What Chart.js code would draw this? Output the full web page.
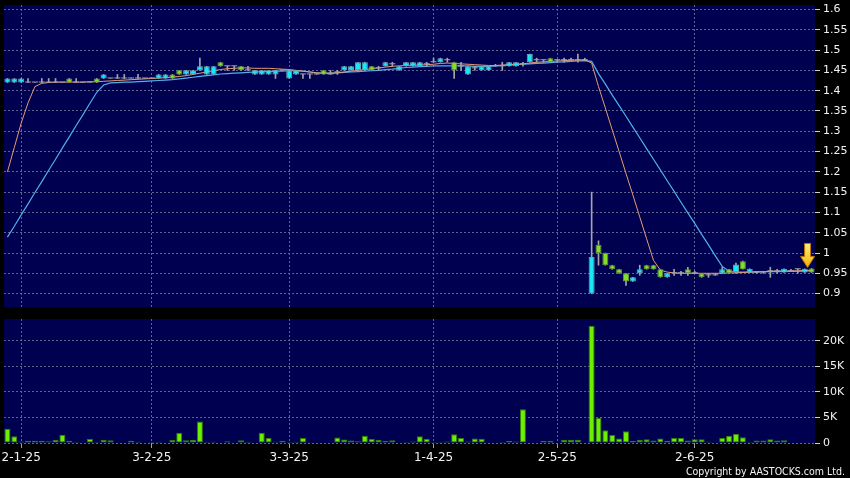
<!DOCTYPE html>
<html>
<head>
<meta charset="utf-8">
<script src="https://cdn.jsdelivr.net/npm/chart.js@4.4.1/dist/chart.umd.min.js"></script>
<style>
  html, body { margin: 0; padding: 0; background: #000; }
  #wrap { position: relative; width: 850px; height: 478px; background: #000; overflow: hidden; }
  #priceChart { position: absolute; left: 0; top: 0; }
  #volChart { position: absolute; left: 0; top: 310px; }
  #copy { position: absolute; right: 5px; top: 465px; color: #f4f4f4; font: 10.5px "DejaVu Sans Condensed", "DejaVu Sans", sans-serif; white-space: nowrap; }
</style>
</head>
<body>
<div id="wrap">
  <canvas id="priceChart" width="850" height="310"></canvas>
  <canvas id="volChart" width="850" height="168"></canvas>
  <div id="copy">Copyright by AASTOCKS.com Ltd.</div>
</div>
<script>
// 交易日 (D-M-YY)
const dates = [
  '30-12-24', '31-12-24',
  '2-1-25', '3-1-25', '6-1-25', '7-1-25', '8-1-25', '9-1-25', '10-1-25', '13-1-25', '14-1-25', '15-1-25',
  '16-1-25', '17-1-25', '20-1-25', '21-1-25', '22-1-25', '23-1-25', '24-1-25', '27-1-25', '28-1-25',
  '3-2-25', '4-2-25', '5-2-25', '6-2-25', '7-2-25', '10-2-25', '11-2-25', '12-2-25', '13-2-25', '14-2-25',
  '17-2-25', '18-2-25', '19-2-25', '20-2-25', '21-2-25', '24-2-25', '25-2-25', '26-2-25', '27-2-25', '28-2-25',
  '3-3-25', '4-3-25', '5-3-25', '6-3-25', '7-3-25', '10-3-25', '11-3-25', '12-3-25', '13-3-25', '14-3-25',
  '17-3-25', '18-3-25', '19-3-25', '20-3-25', '21-3-25', '24-3-25', '25-3-25', '26-3-25', '27-3-25', '28-3-25', '31-3-25',
  '1-4-25', '2-4-25', '3-4-25', '7-4-25', '8-4-25', '10-4-25', '11-4-25', '14-4-25', '15-4-25',
  '16-4-25', '17-4-25', '22-4-25', '23-4-25', '24-4-25', '25-4-25', '28-4-25', '29-4-25', '30-4-25',
  '2-5-25', '6-5-25', '7-5-25', '8-5-25', '9-5-25', '12-5-25', '13-5-25', '14-5-25', '15-5-25', '16-5-25',
  '19-5-25', '20-5-25', '21-5-25', '22-5-25', '23-5-25', '26-5-25', '27-5-25', '28-5-25', '29-5-25', '30-5-25',
  '2-6-25', '3-6-25', '4-6-25', '5-6-25', '6-6-25', '9-6-25', '10-6-25', '11-6-25', '12-6-25', '13-6-25',
  '16-6-25', '17-6-25', '18-6-25', '19-6-25', '20-6-25', '23-6-25', '24-6-25', '25-6-25'
];

// 显示刻度的日期
const monthTicks = ['2-1-25', '3-2-25', '3-3-25', '1-4-25', '2-5-25', '2-6-25'];

// 开盘价
const opens = [
  1.42, 1.42, 1.42, 1.42, 1.42, 1.42, 1.42, 1.42, 1.42, 1.43,
  1.42, 1.42, 1.42, 1.43, 1.43, 1.43, 1.43, 1.43, 1.43, 1.43,
  1.43, 1.43, 1.43, 1.43, 1.44, 1.45, 1.44, 1.44, 1.45, 1.44,
  1.44, 1.47, 1.46, 1.46, 1.46, 1.45, 1.44, 1.44, 1.44, 1.44,
  1.45, 1.43, 1.44, 1.44, 1.44, 1.44, 1.45, 1.44, 1.445, 1.45,
  1.45, 1.45, 1.45, 1.46, 1.455, 1.46, 1.465, 1.45, 1.46, 1.46,
  1.46, 1.465, 1.47, 1.47, 1.475, 1.47, 1.46, 1.44, 1.455, 1.45,
  1.45, 1.46, 1.46, 1.46, 1.46, 1.465, 1.47, 1.475, 1.475, 1.48,
  1.475, 1.475, 1.475, 1.475, 1.475, 0.90, 1.02, 1.00, 0.97, 0.96,
  0.95, 0.93, 0.95, 0.97, 0.97, 0.96, 0.94, 0.95, 0.95, 0.96,
  0.95, 0.95, 0.945, 0.945, 0.95, 0.96, 0.953, 0.98, 0.952, 0.952,
  0.952, 0.955, 0.955, 0.952, 0.955, 0.96, 0.952, 0.962
];

// 最高价
const highs = [
  1.43, 1.43, 1.43, 1.43, 1.42, 1.43, 1.43, 1.43, 1.42, 1.43,
  1.43, 1.42, 1.42, 1.43, 1.44, 1.43, 1.44, 1.44, 1.43, 1.44,
  1.43, 1.43, 1.44, 1.44, 1.44, 1.45, 1.45, 1.45, 1.48, 1.46,
  1.46, 1.47, 1.46, 1.46, 1.46, 1.46, 1.45, 1.45, 1.45, 1.45,
  1.45, 1.45, 1.45, 1.44, 1.44, 1.44, 1.45, 1.45, 1.45, 1.46,
  1.46, 1.47, 1.47, 1.46, 1.46, 1.47, 1.47, 1.46, 1.47, 1.47,
  1.47, 1.47, 1.48, 1.48, 1.48, 1.47, 1.47, 1.46, 1.46, 1.46,
  1.46, 1.465, 1.47, 1.47, 1.47, 1.47, 1.49, 1.48, 1.475, 1.48,
  1.475, 1.48, 1.48, 1.49, 1.48, 1.15, 1.03, 1.00, 0.97, 0.96,
  0.95, 0.94, 0.97, 0.97, 0.97, 0.96, 0.95, 0.96, 0.955, 0.965,
  0.955, 0.95, 0.95, 0.95, 0.965, 0.96, 0.975, 0.98, 0.961, 0.955,
  0.955, 0.965, 0.96, 0.961, 0.96, 0.96, 0.961, 0.962
];

// 最低价
const lows = [
  1.42, 1.42, 1.42, 1.42, 1.42, 1.42, 1.42, 1.42, 1.42, 1.42,
  1.42, 1.42, 1.42, 1.42, 1.43, 1.43, 1.43, 1.43, 1.43, 1.43,
  1.43, 1.43, 1.43, 1.43, 1.43, 1.44, 1.44, 1.44, 1.45, 1.44,
  1.44, 1.46, 1.45, 1.45, 1.45, 1.45, 1.44, 1.44, 1.44, 1.43,
  1.45, 1.43, 1.44, 1.43, 1.43, 1.44, 1.44, 1.44, 1.44, 1.45,
  1.45, 1.45, 1.45, 1.45, 1.45, 1.46, 1.46, 1.45, 1.46, 1.46,
  1.46, 1.46, 1.47, 1.47, 1.47, 1.43, 1.45, 1.44, 1.45, 1.45,
  1.45, 1.46, 1.45, 1.46, 1.46, 1.46, 1.47, 1.47, 1.47, 1.47,
  1.47, 1.47, 1.475, 1.47, 1.475, 0.90, 0.97, 0.97, 0.96, 0.95,
  0.92, 0.93, 0.945, 0.96, 0.96, 0.94, 0.94, 0.945, 0.945, 0.945,
  0.95, 0.94, 0.94, 0.945, 0.95, 0.95, 0.95, 0.96, 0.952, 0.95,
  0.95, 0.94, 0.95, 0.952, 0.955, 0.95, 0.952, 0.952
];

// 收盘价
const closes = [
  1.43, 1.43, 1.43, 1.42, 1.42, 1.42, 1.42, 1.42, 1.42, 1.42,
  1.42, 1.42, 1.42, 1.42, 1.44, 1.43, 1.43, 1.43, 1.43, 1.43,
  1.43, 1.43, 1.44, 1.44, 1.43, 1.44, 1.45, 1.45, 1.46, 1.46,
  1.46, 1.46, 1.46, 1.46, 1.45, 1.45, 1.45, 1.45, 1.45, 1.45,
  1.45, 1.45, 1.45, 1.44, 1.44, 1.44, 1.44, 1.44, 1.445, 1.46,
  1.46, 1.47, 1.47, 1.45, 1.455, 1.47, 1.465, 1.46, 1.47, 1.47,
  1.47, 1.465, 1.47, 1.48, 1.475, 1.45, 1.46, 1.46, 1.455, 1.46,
  1.46, 1.46, 1.46, 1.47, 1.47, 1.465, 1.49, 1.475, 1.475, 1.47,
  1.475, 1.475, 1.475, 1.475, 1.475, 0.99, 1.00, 0.97, 0.96, 0.95,
  0.93, 0.94, 0.96, 0.96, 0.96, 0.94, 0.95, 0.95, 0.95, 0.95,
  0.95, 0.94, 0.945, 0.945, 0.96, 0.95, 0.972, 0.96, 0.961, 0.952,
  0.952, 0.955, 0.955, 0.961, 0.955, 0.96, 0.961, 0.952
];

// 成交量(千股)
const volumes = [
  2.8, 1.3, 0.3, 0.45, 0.45, 0.45, 0.35, 0.65, 1.6, 0.45,
  0.2, 0.1, 0.8, 0.2, 0.65, 0.55, 0, 0, 0.45, 0.25,
  0, 0.25, 0.25, 0, 0.6, 2.0, 0.55, 0.65, 4.2, 0.25,
  0.25, 0, 0.35, 0, 0.55, 0.25, 0, 2.0, 1.0, 0.25,
  0.45, 0.25, 0.25, 1.0, 0.15, 0, 0, 0, 1.1, 0.7,
  0.5, 0.35, 1.4, 0.8, 0.65, 0.4, 0.55, 0.1, 0.2, 0.3,
  1.3, 0.8, 0.2, 0.2, 0.3, 1.7, 1.0, 0.3, 0.9, 0.85,
  0.05, 0.1, 0.2, 0.4, 0.3, 6.6, 0.1, 0, 0.45, 0.45,
  0, 0.65, 0.65, 0.65, 0.1, 23.0, 4.9, 2.5, 1.55, 0.9,
  2.3, 0.45, 0.65, 0.75, 0.5, 0.9, 0.45, 1.0, 1.0, 0.5,
  0.75, 0.75, 0.25, 0.1, 1.0, 1.4, 1.8, 1.15, 0.2, 0.5,
  0.5, 0.75, 0.5, 0.55, 0, 0.1, 0.03, 0.03
];

// 10日均线
const ma10 = [
  1.20, 1.26, 1.32, 1.37, 1.41, 1.418, 1.42, 1.421, 1.421, 1.421,
  1.421, 1.421, 1.422, 1.422, 1.423, 1.424, 1.425, 1.426, 1.427, 1.428,
  1.429, 1.430, 1.431, 1.432, 1.433, 1.435, 1.437, 1.440, 1.443, 1.446,
  1.449, 1.452, 1.454, 1.455, 1.456, 1.456, 1.455, 1.455, 1.455, 1.454,
  1.453, 1.452, 1.450, 1.448, 1.446, 1.444, 1.443, 1.443, 1.444, 1.446,
  1.448, 1.450, 1.452, 1.454, 1.456, 1.458, 1.460, 1.461, 1.462, 1.463,
  1.463, 1.464, 1.465, 1.467, 1.468, 1.467, 1.466, 1.465, 1.464, 1.463,
  1.462, 1.462, 1.463, 1.464, 1.465, 1.466, 1.468, 1.470, 1.471, 1.472,
  1.473, 1.474, 1.475, 1.475, 1.476, 1.468, 1.410, 1.357, 1.303, 1.250,
  1.196, 1.143, 1.089, 1.035, 0.982, 0.958, 0.953, 0.951, 0.950, 0.950,
  0.950, 0.950, 0.950, 0.950, 0.950, 0.951, 0.951, 0.952, 0.953, 0.954,
  0.954, 0.955, 0.955, 0.955, 0.956, 0.956, 0.957, 0.957
];

// 20日均线
const ma20 = [
  1.039, 1.066, 1.094, 1.121, 1.149, 1.176, 1.204, 1.231, 1.259, 1.286,
  1.314, 1.341, 1.369, 1.396, 1.414, 1.419, 1.420, 1.421, 1.421, 1.422,
  1.423, 1.424, 1.425, 1.426, 1.427, 1.429, 1.431, 1.433, 1.435, 1.437,
  1.439, 1.441, 1.442, 1.443, 1.444, 1.445, 1.446, 1.447, 1.447, 1.448,
  1.448, 1.449, 1.449, 1.448, 1.446, 1.444, 1.443, 1.443, 1.444, 1.445,
  1.446, 1.447, 1.448, 1.449, 1.450, 1.452, 1.453, 1.455, 1.457, 1.458,
  1.459, 1.460, 1.461, 1.461, 1.461, 1.461, 1.461, 1.461, 1.460, 1.460,
  1.460, 1.461, 1.462, 1.463, 1.464, 1.465, 1.466, 1.467, 1.468, 1.469,
  1.470, 1.471, 1.472, 1.473, 1.474, 1.472, 1.442, 1.416, 1.389, 1.363,
  1.337, 1.310, 1.284, 1.257, 1.231, 1.205, 1.178, 1.152, 1.125, 1.099,
  1.073, 1.046, 1.020, 0.993, 0.967, 0.955, 0.953, 0.953, 0.953, 0.953,
  0.954, 0.954, 0.954, 0.955, 0.955, 0.955, 0.956, 0.956
];

const NAVY = '#000050';
const GRID = '#62628f';
const CYAN = '#1ce6f6';
const CYAN_EDGE = '#5aa8b8';
const GREEN = '#86dc26';
const GREEN_EDGE = '#5c9a30';
const DOJI = '#a4a4a4';
const ORANGE = '#e89a70';
const BLUE = '#52aeee';
const VOL = '#6cf000';
const VOL_EDGE = '#2f7c08';

Chart.defaults.font.family = 'DejaVu Sans';
Chart.defaults.animation = false;

// 画图区域背景
const panelBg = {
  id: 'panelBg',
  beforeDraw(chart) {
    const a = chart.chartArea;
    const ctx = chart.ctx;
    ctx.save();
    ctx.fillStyle = NAVY;
    ctx.fillRect(a.left, a.top, a.right - a.left, a.bottom - a.top);
    ctx.restore();
  }
};

// 最后一根K线上方的黄色箭头
const lastArrow = {
  id: 'lastArrow',
  afterDatasetsDraw(chart) {
    const i = dates.length - 1;
    const x = chart.scales.x.getPixelForValue(i) - 4;
    const tip = chart.scales.y.getPixelForValue(highs[i]) - 1;
    const ctx = chart.ctx;
    ctx.save();
    const g = ctx.createLinearGradient(0, tip - 24, 0, tip);
    g.addColorStop(0, '#fff080');
    g.addColorStop(1, '#f2b000');
    ctx.fillStyle = g;
    ctx.strokeStyle = '#b87800';
    ctx.lineWidth = 1;
    ctx.beginPath();
    ctx.moveTo(x - 3, tip - 24);
    ctx.lineTo(x + 3, tip - 24);
    ctx.lineTo(x + 3, tip - 11);
    ctx.lineTo(x + 7, tip - 11);
    ctx.lineTo(x, tip);
    ctx.lineTo(x - 7, tip - 11);
    ctx.lineTo(x - 3, tip - 11);
    ctx.closePath();
    ctx.fill();
    ctx.stroke();
    ctx.restore();
  }
};

function monthColor(color) {
  return ctx => monthTicks.includes(dates[ctx.index]) ? color : 'rgba(0,0,0,0)';
}

function candleColor(fill, up, down) {
  return ctx => {
    const i = ctx.dataIndex;
    if (closes[i] > opens[i]) return up;
    if (closes[i] < opens[i]) return down;
    return fill;
  };
}

function yAxisFit(s) {
  s.width = 35;
  s.paddingTop = 0;
  s.paddingBottom = 0;
}

new Chart(document.getElementById('priceChart'), {
  type: 'bar',
  data: {
    labels: dates,
    datasets: [
      {
        type: 'line', label: 'MA10', data: ma10,
        borderColor: ORANGE, borderWidth: 1, pointRadius: 0, tension: 0, order: 3
      },
      {
        type: 'line', label: 'MA20', data: ma20,
        borderColor: BLUE, borderWidth: 1.2, pointRadius: 0, tension: 0, order: 3
      },
      {
        label: 'wick', data: lows.map((l, i) => [l, highs[i]]),
        backgroundColor: DOJI, barThickness: 1, grouped: false, order: 2
      },
      {
        label: 'body', data: opens.map((o, i) => [o, closes[i]]),
        backgroundColor: candleColor(DOJI, CYAN, GREEN),
        borderColor: candleColor(DOJI, CYAN_EDGE, GREEN_EDGE),
        borderWidth: ctx => closes[ctx.dataIndex] === opens[ctx.dataIndex] ? 0 : 1,
        borderSkipped: false, minBarLength: 1,
        barPercentage: 0.88, categoryPercentage: 1, grouped: false, order: 1
      }
    ]
  },
  options: {
    responsive: false,
    devicePixelRatio: 1,
    layout: { padding: { top: 5, bottom: 3, left: 4, right: 0 } },
    plugins: { legend: { display: false }, tooltip: { enabled: false } },
    scales: {
      x: {
        type: 'category', offset: true,
        ticks: { display: false, autoSkip: false },
        grid: { offset: false, drawTicks: false, color: monthColor(GRID) },
        border: { display: false, dash: [2, 2] },
        afterFit(s) { s.height = 0; s.paddingLeft = 0; s.paddingRight = 0; }
      },
      y: {
        position: 'right', min: 0.867, max: 1.611,
        ticks: {
          stepSize: 0.05, includeBounds: false, color: '#f2f2f2', padding: 3,
          font: { size: 11 },
          callback: v => String(Number(v.toFixed(2)))
        },
        grid: { color: GRID, tickColor: '#d0d0d0', tickLength: 5, tickBorderDash: [] },
        border: { display: false, dash: [2, 2] },
        afterFit: yAxisFit
      }
    }
  },
  plugins: [panelBg, lastArrow]
});

new Chart(document.getElementById('volChart'), {
  type: 'bar',
  data: {
    labels: dates,
    datasets: [{
      label: 'volume', data: volumes,
      backgroundColor: VOL, borderColor: VOL_EDGE, borderWidth: 1, borderSkipped: false,
      barPercentage: 0.88, categoryPercentage: 1
    }]
  },
  options: {
    responsive: false,
    devicePixelRatio: 1,
    layout: { padding: { top: 9, bottom: 0, left: 4, right: 0 } },
    plugins: { legend: { display: false }, tooltip: { enabled: false } },
    scales: {
      x: {
        type: 'category', offset: true,
        ticks: {
          autoSkip: false, maxRotation: 0, minRotation: 0, color: '#f2f2f2', padding: 3,
          font: { size: 12 },
          callback: (v, i) => monthTicks.includes(dates[i]) ? dates[i] : ''
        },
        grid: { offset: false, color: monthColor(GRID), tickColor: monthColor('#a0a0a0'), tickLength: 5, tickBorderDash: [] },
        border: { display: false, dash: [2, 2] },
        afterFit(s) { s.height = 35; s.paddingLeft = 0; s.paddingRight = 0; }
      },
      y: {
        position: 'right', min: 0, max: 24.3,
        ticks: {
          stepSize: 5, includeBounds: false, color: '#f2f2f2', padding: 3,
          font: { size: 11 },
          callback: v => v === 0 ? '0' : v + 'K'
        },
        grid: { color: GRID, tickColor: '#d0d0d0', tickLength: 5, tickBorderDash: [] },
        border: { display: false, dash: [2, 2] },
        afterFit: yAxisFit
      }
    }
  },
  plugins: [panelBg]
});
</script>
</body>
</html>
